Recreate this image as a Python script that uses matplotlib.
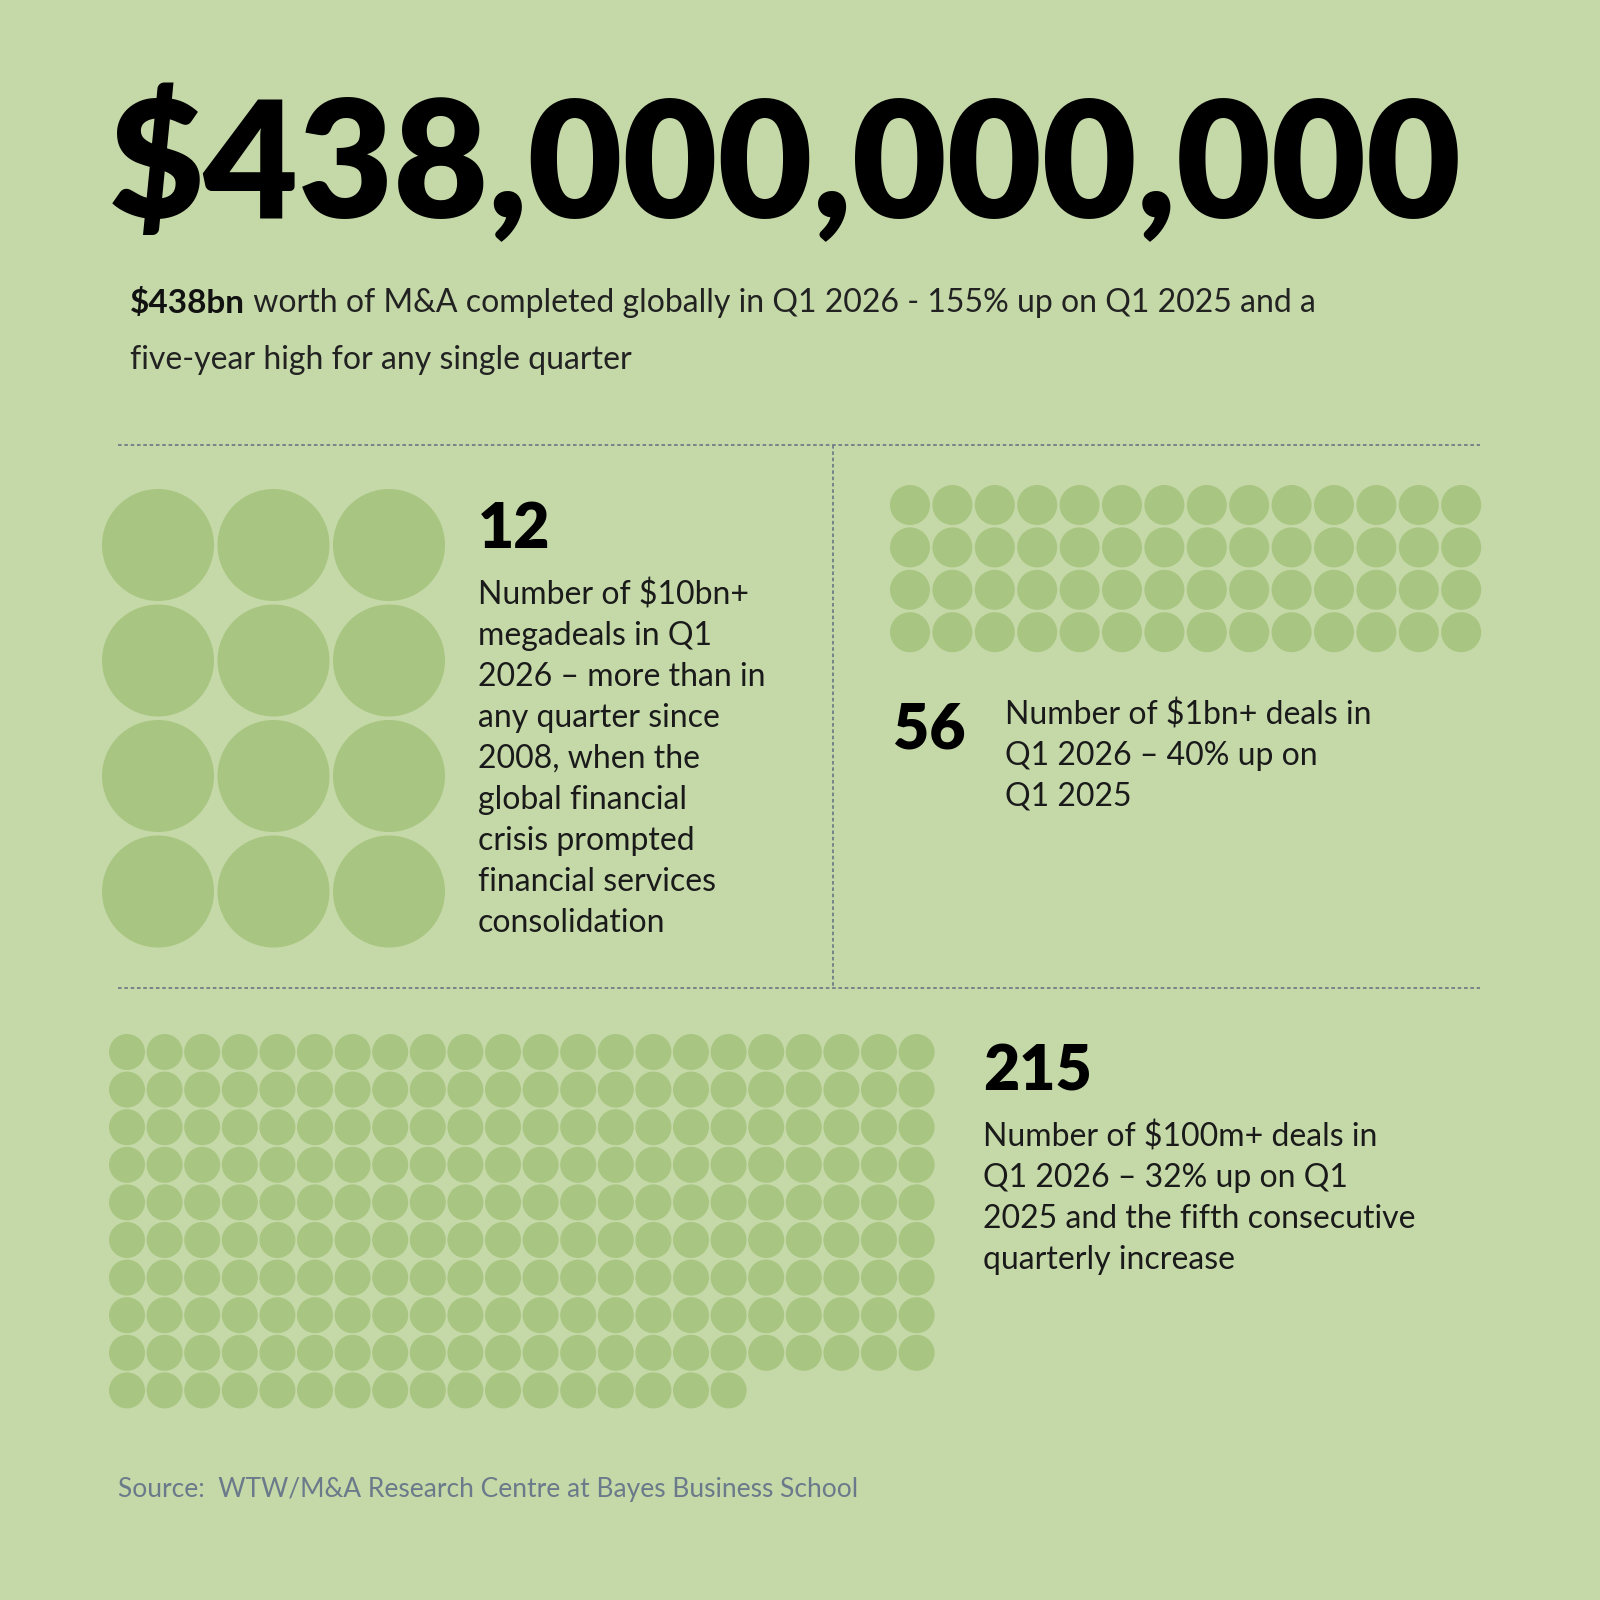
import matplotlib
matplotlib.use('Agg')
import matplotlib.pyplot as plt
import matplotlib.patches as mpatches

bg_color = '#c5d9a8'
dot_color = '#a8c581'
plt.rcParams['font.family'] = ['Lato', 'DejaVu Sans']

# data
headline = '$438,000,000,000'
sub_bold = '$438bn'
sub_rest = ' worth of M&A completed globally in Q1 2026 - 155% up on Q1 2025 and a'
sub_line2 = 'five-year high for any single quarter'
counts = [12, 56, 215]
columns = [3, 14, 22]
labels = ['12', '56', '215']
blurbs = [
    ['Number of $10bn+', 'megadeals in Q1', '2026 \u2013 more than in', 'any quarter since',
     '2008, when the', 'global financial', 'crisis prompted', 'financial services', 'consolidation'],
    ['Number of $1bn+ deals in', 'Q1 2026 \u2013 40% up on', 'Q1 2025'],
    ['Number of $100m+ deals in', 'Q1 2026 \u2013 32% up on Q1', '2025 and the fifth consecutive',
     'quarterly increase'],
]
source = 'Source:  WTW/M&A Research Centre at Bayes Business School'

fig = plt.figure(figsize=(16, 16), dpi=100, facecolor=bg_color)
ax = fig.add_axes([0, 0, 1, 1])
ax.set_xlim(0, 1600)
ax.set_ylim(1600, 0)
ax.axis('off')

# headline
ax.text(785, 165, headline, fontsize=118, fontweight='heavy', ha='center', va='center', color='black')
t = ax.text(130, 303, sub_bold, fontsize=24, fontweight='bold', va='center', color='#111111')
fig.canvas.draw()
bb = t.get_window_extent()
x_end = bb.x1
ax.text(x_end, 1600 - 303, sub_rest, fontsize=23, va='center', color='#222222', transform=None)
ax.text(130, 360, sub_line2, fontsize=23, va='center', color='#222222')

# dividers
lc = '#6f7f86'
ax.plot([118, 1480], [445, 445], ls=(0, (2, 1.5)), color=lc, lw=1.3)
ax.plot([118, 1480], [988, 988], ls=(0, (2, 1.5)), color=lc, lw=1.3)
ax.plot([833, 833], [445, 988], ls=(0, (2, 1.5)), color=lc, lw=1.3)

# dot grids: (x0, y0, spacing, radius)
grids = [(158, 545, 115.5, 56), (910, 505, 42.4, 20), (127, 1052, 37.6, 18)]
for n, ncol, (x0, y0, sp, r) in zip(counts, columns, grids):
    for i in range(n):
        cx = x0 + (i % ncol) * sp
        cy = y0 + (i // ncol) * sp
        ax.add_patch(mpatches.Circle((cx, cy), r, color=dot_color, lw=0))

# numbers and blurbs
num_pos = [(478, 530), (893, 730), (983, 1072)]
text_pos = [(478, 595), (1005, 715), (983, 1137)]
for lab, lines, (nx, ny), (tx, ty) in zip(labels, blurbs, num_pos, text_pos):
    ax.text(nx, ny, lab, fontsize=45, fontweight='heavy', va='center', color='black')
    for k, line in enumerate(lines):
        ax.text(tx, ty + k * 41, line, fontsize=23, va='center', color='#1a1a1a')

ax.text(118, 1490, source, fontsize=19, va='center', color='#6b7a8a')

fig.savefig('out.png', dpi=100, facecolor=bg_color)
